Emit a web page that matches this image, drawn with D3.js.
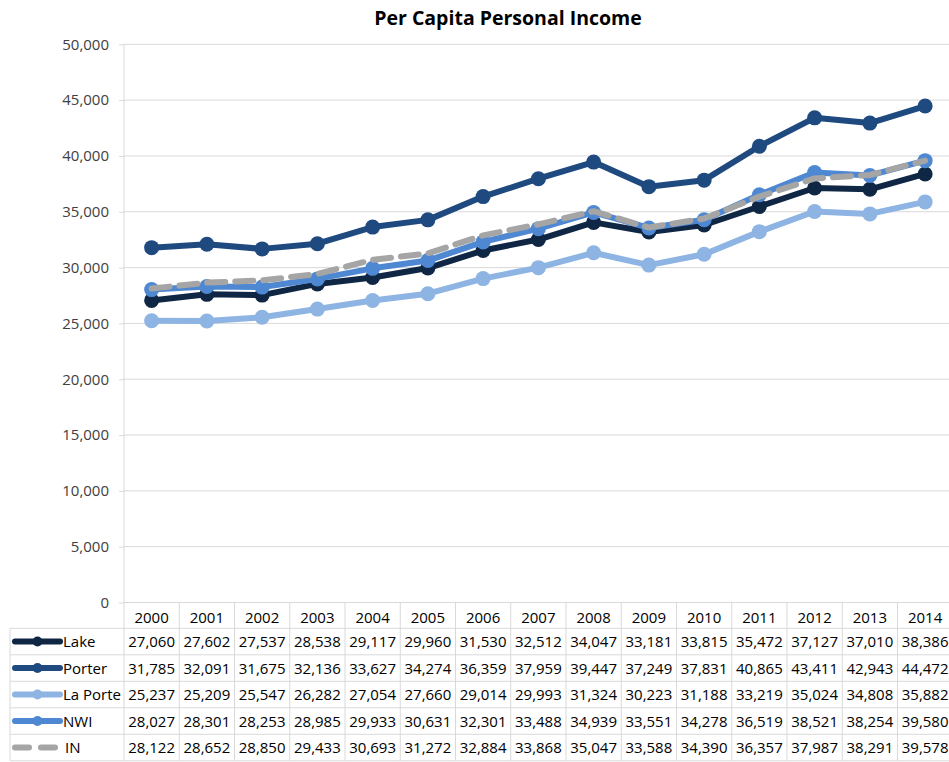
<!DOCTYPE html>
<html><head><meta charset="utf-8">
<script src="https://cdn.jsdelivr.net/npm/d3@7"></script>
<style>body{margin:0;background:#fff}svg{display:block;font-family:"Open Sans",sans-serif}</style>
</head><body><svg id="c" width="949" height="762"></svg>
<script>
const years=["2000","2001","2002","2003","2004","2005","2006","2007","2008","2009","2010","2011","2012","2013","2014"];
const lake=[27060,27602,27537,28538,29117,29960,31530,32512,34047,33181,33815,35472,37127,37010,38386];
const porter=[31785,32091,31675,32136,33627,34274,36359,37959,39447,37249,37831,40865,43411,42943,44472];
const laPorte=[25237,25209,25547,26282,27054,27660,29014,29993,31324,30223,31188,33219,35024,34808,35882];
const nwi=[28027,28301,28253,28985,29933,30631,32301,33488,34939,33551,34278,36519,38521,38254,39580];
const indiana=[28122,28652,28850,29433,30693,31272,32884,33868,35047,33588,34390,36357,37987,38291,39578];
const seriesNames=["Lake","Porter","La Porte","NWI","IN"];
const yTicks=[0,5000,10000,15000,20000,25000,30000,35000,40000,45000,50000];
const title="Per Capita Personal Income";

(function(){
const series=[
 {name:seriesNames[0],values:lake,color:"#0f2644",dash:null,marker:true},
 {name:seriesNames[1],values:porter,color:"#1f4a80",dash:null,marker:true},
 {name:seriesNames[2],values:laPorte,color:"#8db4e2",dash:null,marker:true},
 {name:seriesNames[3],values:nwi,color:"#4f88d2",dash:null,marker:true},
 {name:seriesNames[4],values:indiana,color:"#a5a5a5",dash:"18,10",marker:false}
];

const svg=d3.select("#c");
const left=124, colW=55.25, plotTop=44.3, bottom=602.5;
const x=d3.scaleBand().domain(years).range([left,left+colW*years.length]);
const y=d3.scaleLinear().domain([0,50000]).range([bottom,plotTop]);
const grid="#d9d9d9";
const fs=15;

svg.append("text").attr("x",508).attr("y",25).attr("text-anchor","middle")
 .attr("font-size",19.5).attr("font-weight","bold").attr("fill","#000").text(title);

svg.append("g").selectAll("line").data(yTicks.slice(1)).join("line")
 .attr("x1",left).attr("x2",949).attr("y1",d=>y(d)).attr("y2",d=>y(d))
 .attr("stroke",grid).attr("stroke-width",1);

const yAxis=d3.axisLeft(y).tickValues(yTicks).tickFormat(d3.format(",")).tickSize(5).tickPadding(10);
const ga=svg.append("g").attr("transform",`translate(${left},0)`).call(yAxis);
ga.select(".domain").remove();
ga.selectAll("line").attr("stroke",grid);
ga.selectAll("text").attr("font-size",fs).attr("fill","#404040").attr("font-family","Open Sans");

const rowH=26.5, tableTop=bottom, tableLeft=10, right=949;
const headerBottom=628.3;
const tb=svg.append("g");
tb.append("line").attr("x1",left).attr("x2",left).attr("y1",plotTop).attr("y2",headerBottom+rowH*5).attr("stroke",grid);
tb.append("line").attr("x1",left).attr("x2",right).attr("y1",bottom).attr("y2",bottom).attr("stroke",grid);
years.forEach((yr,i)=>{
  const xr=x(yr)+x.bandwidth();
  tb.append("line").attr("x1",xr).attr("x2",xr).attr("y1",tableTop).attr("y2",headerBottom+rowH*5).attr("stroke",grid);
  tb.append("text").attr("x",x(yr)+x.bandwidth()/2).attr("y",tableTop+20).attr("text-anchor","middle")
   .attr("font-size",fs).attr("fill","#000").text(yr);
});
for(let r=0;r<=5;r++){
  tb.append("line").attr("x1",tableLeft).attr("x2",right).attr("y1",headerBottom+rowH*r).attr("y2",headerBottom+rowH*r).attr("stroke",grid);
}
tb.append("line").attr("x1",tableLeft).attr("x2",tableLeft).attr("y1",headerBottom).attr("y2",headerBottom+rowH*5).attr("stroke",grid);
const fmt=d3.format(",");
series.forEach((s,r)=>{
  const cy=headerBottom+rowH*r+rowH/2;
  if(s.marker){
    tb.append("line").attr("x1",15).attr("x2",60).attr("y1",cy).attr("y2",cy).attr("stroke",s.color).attr("stroke-width",6).attr("stroke-linecap","round");
    tb.append("circle").attr("cx",37.5).attr("cy",cy).attr("r",5).attr("fill",s.color);
  } else {
    tb.append("line").attr("x1",15).attr("x2",60).attr("y1",cy).attr("y2",cy).attr("stroke",s.color).attr("stroke-width",6).attr("stroke-linecap","round").attr("stroke-dasharray","14,12");
  }
  tb.append("text").attr("x",s.marker?63:65).attr("y",cy+5.5).attr("font-size",fs).attr("fill","#000").text(s.name);
  s.values.forEach((v,i)=>{
    tb.append("text").attr("x",x(years[i])+x.bandwidth()/2).attr("y",cy+5.5).attr("text-anchor","middle")
     .attr("font-size",fs).attr("fill","#000").text(fmt(v));
  });
});

const line=d3.line().x((d,i)=>x(years[i])+x.bandwidth()/2).y(d=>y(d));
series.forEach(s=>{
  const g=svg.append("g");
  g.append("path").attr("d",line(s.values)).attr("fill","none").attr("stroke",s.color)
   .attr("stroke-width",6).attr("stroke-linejoin","round").attr("stroke-linecap","round")
   .attr("stroke-dasharray",s.dash);
  if(s.marker){
    g.selectAll("circle").data(s.values).join("circle")
     .attr("cx",(d,i)=>x(years[i])+x.bandwidth()/2).attr("cy",d=>y(d)).attr("r",7.5).attr("fill",s.color);
  }
});
})();
</script></body></html>
